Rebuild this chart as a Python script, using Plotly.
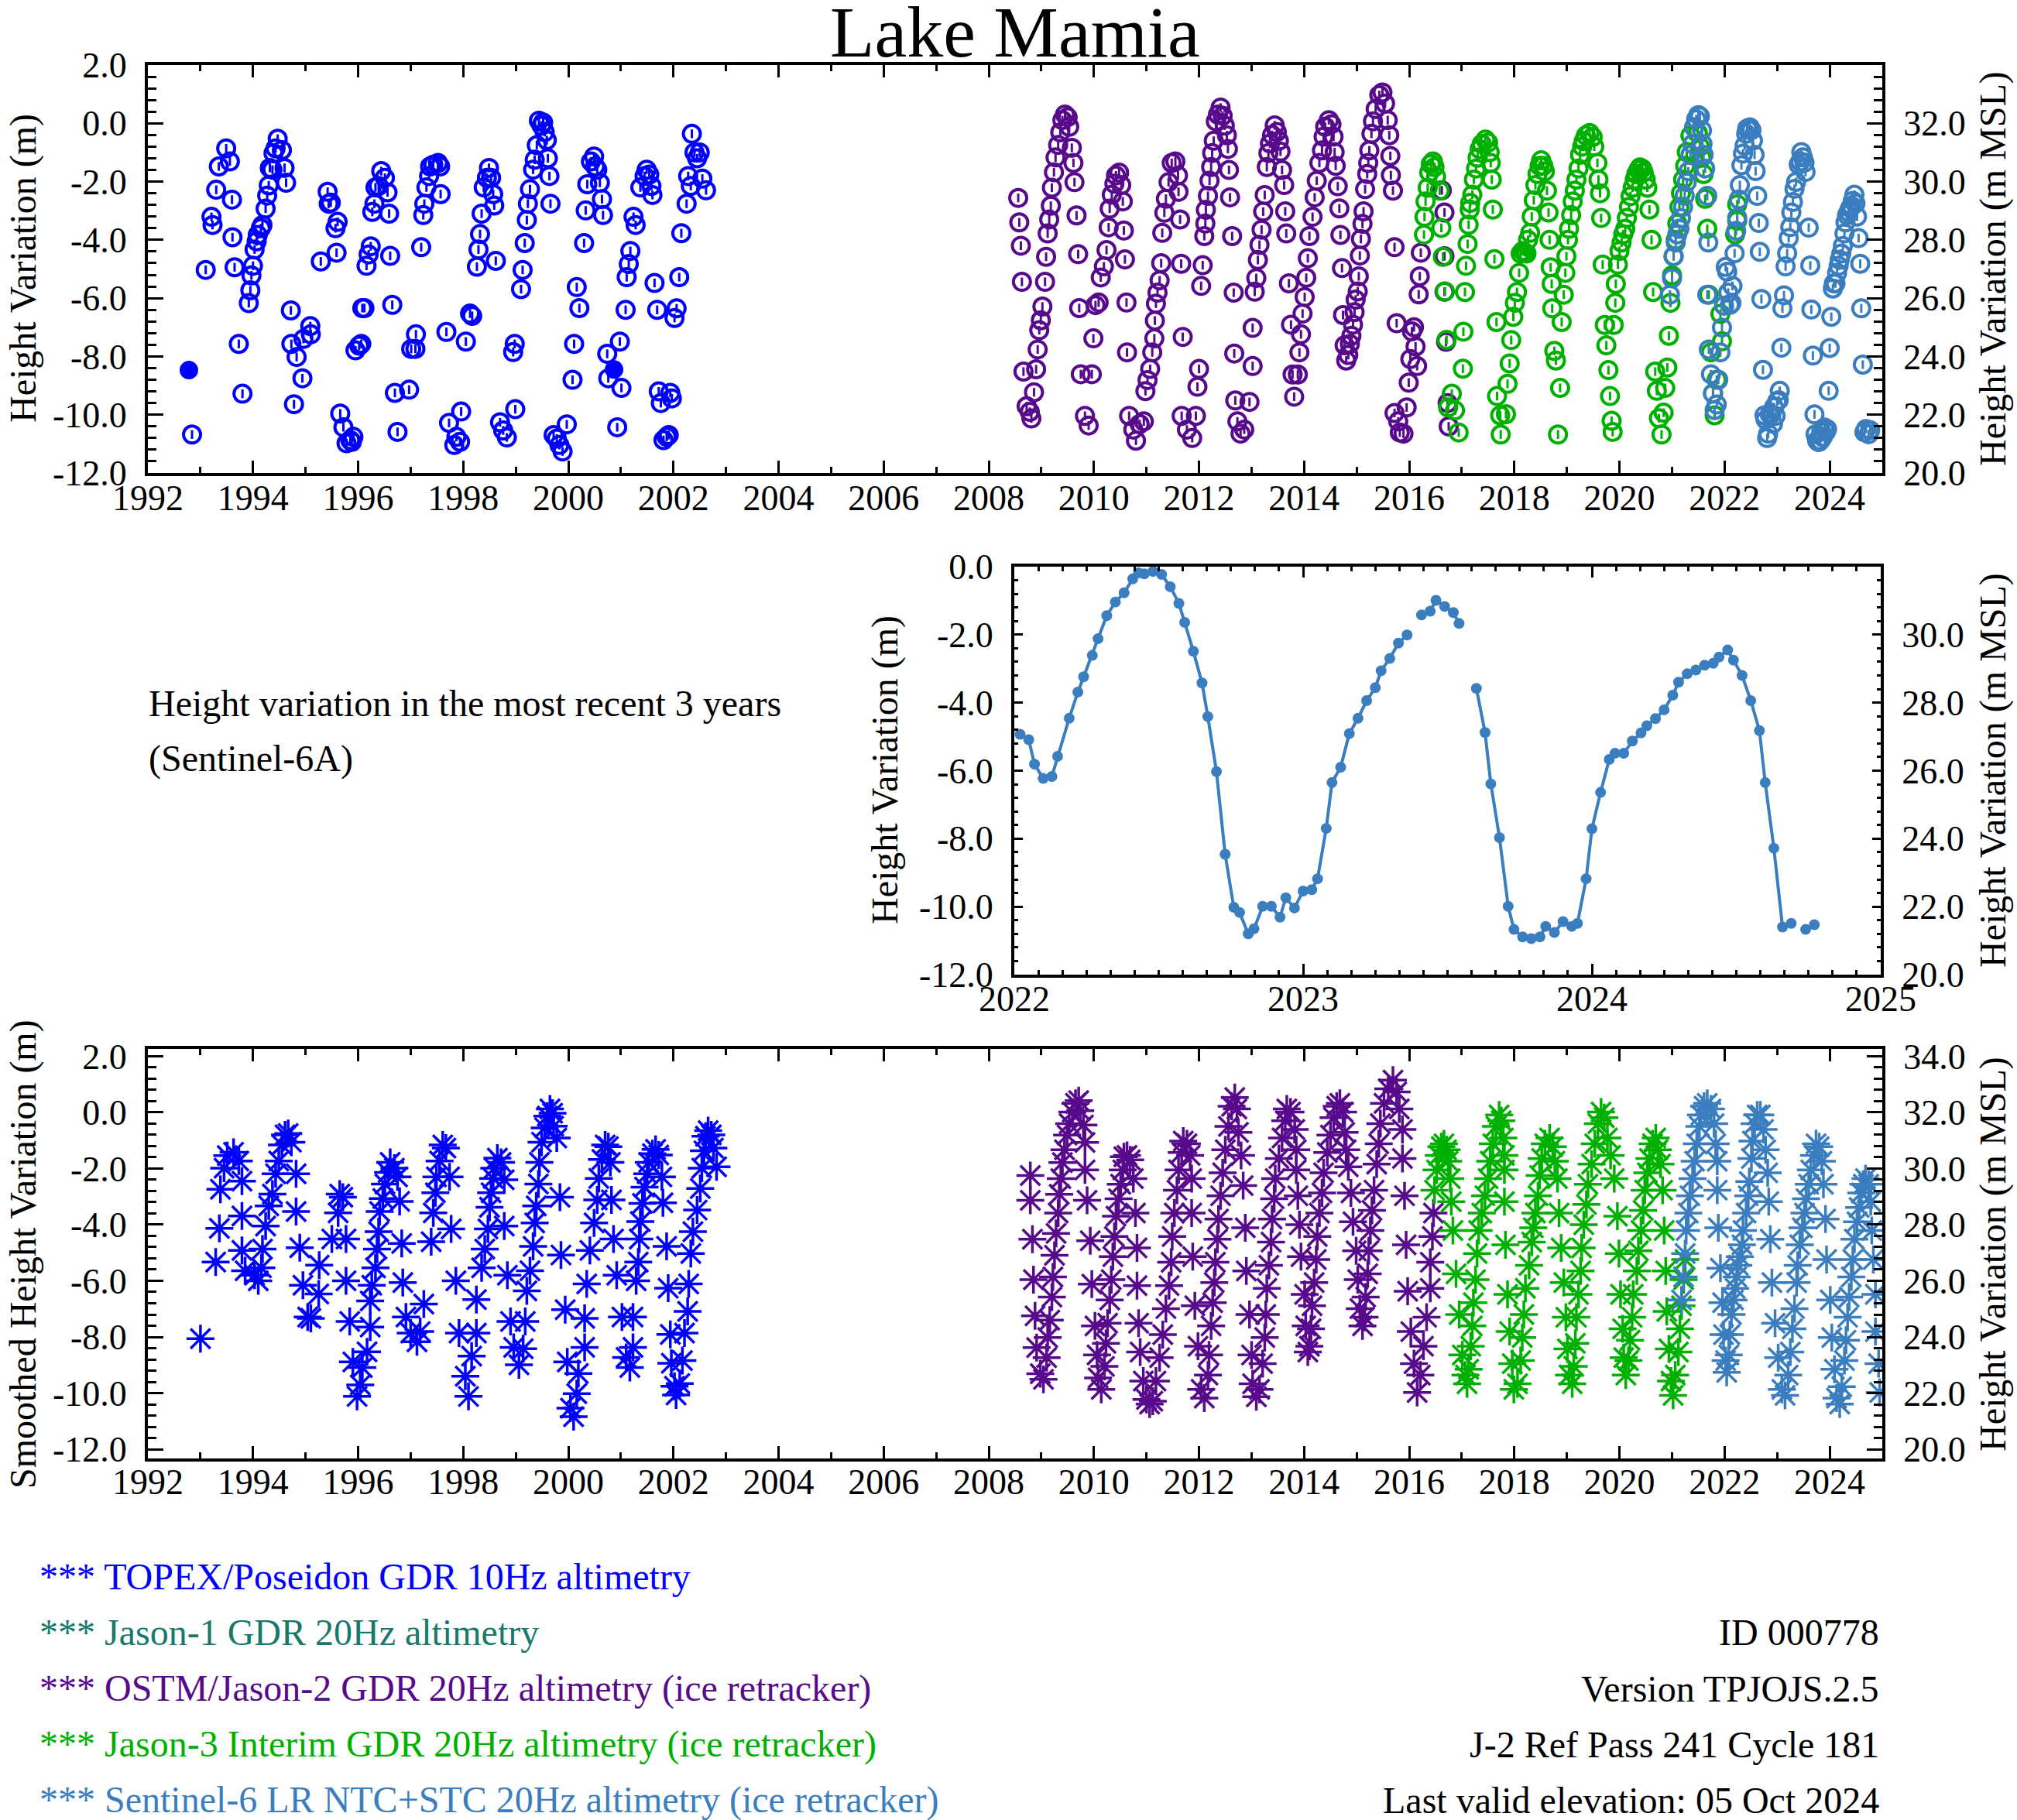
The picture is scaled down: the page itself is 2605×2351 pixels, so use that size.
import plotly.graph_objects as go

W, H = 2605, 2351
FONT = "Liberation Serif"
MSL_OFFSET = 32.0  # right-hand axes: height above MSL = height variation + 32 m

C_TOPEX = "#0000ff"
C_J1 = "#17786c"
C_J2 = "#580a8c"
C_J3 = "#00b000"
C_S6 = "#3a7ebf"

# ---------------- top panel: raw height variation (decimal year, m) ----------------
TOPEX_RAW = [
    (1992.84, -10.68), (1993.10, -5.03), (1993.21, -3.21), (1993.23, -3.49), (1993.30, -2.28),
    (1993.35, -1.48), (1993.49, -0.86), (1993.56, -1.31), (1993.60, -2.62), (1993.61, -3.91),
    (1993.65, -4.94), (1993.73, -7.57), (1993.80, -9.28), (1993.92, -6.17), (1993.95, -5.73),
    (1993.97, -5.22), (1994.00, -4.89), (1994.03, -4.33), (1994.07, -4.05), (1994.09, -3.83),
    (1994.15, -3.60), (1994.18, -3.49), (1994.24, -2.93), (1994.27, -2.48), (1994.30, -2.13),
    (1994.32, -1.53), (1994.37, -1.59), (1994.39, -1.03), (1994.43, -0.86), (1994.47, -0.53),
    (1994.55, -0.92), (1994.60, -1.53), (1994.63, -2.04), (1994.72, -6.42), (1994.73, -7.57),
    (1994.78, -9.64), (1994.83, -8.02), (1994.94, -8.75), (1994.96, -7.40), (1995.09, -6.96),
    (1995.10, -7.24), (1995.29, -4.74), (1995.42, -2.35), (1995.44, -2.76), (1995.48, -2.72),
    (1995.57, -3.60), (1995.61, -3.38), (1995.59, -4.44), (1995.66, -9.96), (1995.72, -10.43),
    (1995.78, -10.98), (1995.85, -10.87), (1995.88, -10.93), (1995.91, -10.76), (1995.95, -7.79),
    (1996.02, -7.63), (1996.06, -7.57), (1996.08, -6.34), (1996.12, -6.34), (1996.16, -4.89),
    (1996.20, -4.50), (1996.24, -4.22), (1996.27, -3.04), (1996.31, -2.76), (1996.33, -2.20),
    (1996.39, -2.15), (1996.44, -1.64), (1996.51, -1.87), (1996.56, -2.37), (1996.59, -3.10),
    (1996.61, -4.55), (1996.65, -6.23), (1996.70, -9.25), (1996.75, -10.59), (1996.97, -9.14),
    (1997.01, -7.74), (1997.09, -7.74), (1997.10, -7.24), (1997.20, -4.25), (1997.24, -3.15),
    (1997.26, -2.76), (1997.30, -2.20), (1997.35, -1.81), (1997.37, -1.48), (1997.43, -1.42),
    (1997.52, -1.36), (1997.56, -1.48), (1997.57, -2.43), (1997.68, -7.16), (1997.73, -10.28),
    (1997.83, -11.04), (1997.87, -10.76), (1997.94, -10.93), (1997.96, -9.89), (1998.05, -7.49),
    (1998.13, -6.53), (1998.17, -6.61), (1998.26, -4.92), (1998.29, -4.33), (1998.32, -3.80),
    (1998.35, -3.10), (1998.39, -2.20), (1998.45, -1.87), (1998.49, -1.53), (1998.53, -1.87),
    (1998.57, -2.43), (1998.59, -2.82), (1998.62, -4.72), (1998.70, -10.26), (1998.76, -10.54),
    (1998.83, -10.78), (1998.95, -7.85), (1998.98, -7.57), (1998.99, -9.81), (1999.10, -5.69),
    (1999.13, -5.03), (1999.17, -4.11), (1999.21, -3.32), (1999.23, -2.76), (1999.27, -2.26),
    (1999.33, -1.59), (1999.36, -1.25), (1999.40, -0.75), (1999.44, 0.09), (1999.49, -0.08),
    (1999.52, 0.03), (1999.55, -0.30), (1999.59, -0.58), (1999.61, -1.20), (1999.64, -1.81),
    (1999.66, -2.76), (1999.72, -10.70), (1999.78, -10.82), (1999.83, -11.04), (1999.89, -11.26),
    (1999.97, -10.33), (2000.08, -8.80), (2000.11, -7.57), (2000.16, -5.62), (2000.21, -6.34),
    (2000.30, -4.11), (2000.33, -2.99), (2000.36, -2.09), (2000.43, -1.31), (2000.49, -1.14),
    (2000.51, -1.48), (2000.55, -1.59), (2000.60, -2.04), (2000.64, -2.60), (2000.66, -3.15),
    (2000.74, -7.91), (2000.76, -8.75), (2000.93, -10.43), (2000.98, -7.49), (2001.01, -9.08),
    (2001.09, -6.40), (2001.11, -5.28), (2001.15, -4.83), (2001.18, -4.38), (2001.24, -3.21),
    (2001.28, -3.49), (2001.37, -2.20), (2001.45, -1.81), (2001.49, -1.59), (2001.54, -1.76),
    (2001.58, -2.15), (2001.60, -2.46), (2001.64, -5.48), (2001.69, -6.40), (2001.72, -9.20),
    (2001.76, -9.60), (2001.81, -10.87), (2001.87, -10.76), (2001.91, -10.70), (2001.94, -9.25),
    (2001.97, -9.44), (2002.02, -6.68), (2002.06, -6.35), (2002.11, -5.28), (2002.15, -3.77),
    (2002.25, -2.76), (2002.28, -1.81), (2002.33, -2.15), (2002.35, -0.36), (2002.40, -1.00),
    (2002.45, -1.20), (2002.50, -1.00), (2002.55, -1.90), (2002.62, -2.30),
]
TOPEX_FILLED = [(1992.78, -8.47), (2000.87, -8.45)]

J2_RAW = [
    (2008.56, -2.56), (2008.58, -3.40), (2008.61, -4.20), (2008.63, -5.44), (2008.66, -8.52),
    (2008.72, -9.71), (2008.78, -9.90), (2008.81, -10.13), (2008.86, -9.23), (2008.90, -8.44),
    (2008.93, -7.76), (2008.96, -7.10), (2008.99, -6.76), (2009.02, -6.29), (2009.07, -5.44),
    (2009.09, -4.58), (2009.12, -3.78), (2009.15, -3.30), (2009.18, -2.83), (2009.20, -2.21),
    (2009.24, -1.68), (2009.27, -1.17), (2009.32, -0.74), (2009.36, -0.31), (2009.40, 0.11),
    (2009.45, 0.30), (2009.50, 0.21), (2009.53, -0.12), (2009.58, -0.84), (2009.61, -1.36),
    (2009.63, -2.02), (2009.67, -3.16), (2009.70, -4.49), (2009.72, -6.34), (2009.75, -8.61),
    (2009.83, -10.04), (2009.90, -10.37), (2009.96, -8.61), (2009.99, -7.38), (2010.03, -6.24),
    (2010.09, -6.15), (2010.13, -5.29), (2010.19, -4.91), (2010.24, -4.35), (2010.28, -3.57),
    (2010.30, -2.93), (2010.34, -2.45), (2010.39, -2.07), (2010.42, -1.79), (2010.48, -1.69),
    (2010.52, -2.12), (2010.55, -2.68), (2010.57, -3.68), (2010.59, -4.67), (2010.62, -6.15),
    (2010.63, -7.86), (2010.67, -10.04), (2010.75, -10.51), (2010.80, -10.89), (2010.87, -10.32),
    (2010.95, -10.23), (2010.98, -9.19), (2011.02, -8.81), (2011.07, -8.43), (2011.11, -7.86),
    (2011.15, -7.38), (2011.16, -6.77), (2011.18, -6.19), (2011.21, -5.81), (2011.25, -5.39),
    (2011.28, -4.80), (2011.30, -3.76), (2011.34, -3.07), (2011.37, -2.59), (2011.42, -2.02),
    (2011.48, -1.36), (2011.55, -1.31), (2011.60, -1.79), (2011.61, -2.35), (2011.64, -3.30),
    (2011.66, -4.82), (2011.69, -7.33), (2011.67, -10.04), (2011.77, -10.51), (2011.87, -10.80),
    (2011.94, -10.04), (2011.97, -9.04), (2012.00, -8.43), (2012.04, -5.58), (2012.07, -4.87),
    (2012.10, -3.87), (2012.12, -3.44), (2012.13, -2.97), (2012.17, -2.49), (2012.20, -1.97),
    (2012.23, -1.50), (2012.25, -1.02), (2012.28, -0.60), (2012.32, 0.07), (2012.36, 0.30),
    (2012.41, 0.54), (2012.45, 0.26), (2012.49, -0.08), (2012.53, -0.41), (2012.55, -0.88),
    (2012.57, -1.60), (2012.59, -2.54), (2012.63, -3.87), (2012.66, -5.81), (2012.67, -7.90),
    (2012.69, -9.51), (2012.73, -10.23), (2012.79, -10.65), (2012.86, -10.51), (2012.96, -9.56),
    (2013.02, -8.33), (2013.02, -7.02), (2013.06, -5.78), (2013.09, -5.31), (2013.12, -4.69),
    (2013.15, -4.17), (2013.19, -3.65), (2013.22, -3.03), (2013.25, -2.46), (2013.29, -1.50),
    (2013.32, -1.02), (2013.35, -0.69), (2013.39, -0.40), (2013.44, -0.07), (2013.48, -0.30),
    (2013.52, -0.60), (2013.55, -0.97), (2013.58, -1.60), (2013.62, -2.12), (2013.64, -3.02),
    (2013.66, -3.78), (2013.71, -5.49), (2013.75, -6.91), (2013.78, -8.62), (2013.81, -9.38),
    (2013.88, -8.62), (2013.91, -7.86), (2013.94, -7.24), (2013.97, -6.53), (2014.01, -5.96),
    (2014.04, -5.30), (2014.07, -4.63), (2014.10, -3.87), (2014.16, -3.21), (2014.20, -2.54),
    (2014.24, -1.97), (2014.29, -1.36), (2014.34, -0.93), (2014.37, -0.46), (2014.40, -0.12),
    (2014.47, 0.11), (2014.52, -0.03), (2014.56, -0.46), (2014.58, -0.99), (2014.60, -1.46),
    (2014.64, -2.16), (2014.67, -2.92), (2014.69, -3.83), (2014.72, -4.97), (2014.74, -6.58),
    (2014.77, -7.62), (2014.80, -8.14), (2014.84, -7.95), (2014.87, -7.57), (2014.90, -7.29),
    (2014.93, -6.91), (2014.96, -6.48), (2014.98, -6.05), (2015.02, -5.77), (2015.04, -5.25),
    (2015.06, -4.54), (2015.08, -3.97), (2015.11, -3.45), (2015.13, -3.02), (2015.16, -2.26),
    (2015.20, -1.74), (2015.22, -1.36), (2015.24, -0.93), (2015.28, -0.36), (2015.31, 0.07),
    (2015.36, 0.49), (2015.43, 0.97), (2015.49, 1.06), (2015.54, 0.68), (2015.59, 0.11),
    (2015.62, -0.41), (2015.64, -1.12), (2015.65, -1.78), (2015.69, -2.31), (2015.72, -4.25),
    (2015.76, -6.86), (2015.72, -9.94), (2015.79, -10.23), (2015.82, -10.61), (2015.89, -10.65),
    (2015.95, -9.75), (2015.99, -8.90), (2016.02, -8.09), (2016.05, -7.14), (2016.09, -7.00),
    (2016.12, -7.66), (2016.15, -8.33), (2016.18, -5.87), (2016.20, -5.25), (2016.22, -4.44),
    (2016.62, -2.30), (2016.67, -3.06), (2016.67, -4.56), (2016.67, -5.78), (2016.70, -7.50),
    (2016.73, -9.60), (2016.75, -10.40),
]

J3_RAW = [
    (2016.28, -3.82), (2016.29, -3.21), (2016.31, -2.68), (2016.35, -2.21), (2016.38, -1.69),
    (2016.41, -1.40), (2016.45, -1.31), (2016.48, -1.50), (2016.51, -1.83), (2016.58, -2.31),
    (2016.61, -3.59), (2016.64, -4.58), (2016.68, -5.77), (2016.71, -7.43), (2016.74, -9.75),
    (2016.81, -9.28), (2016.87, -9.85), (2016.94, -10.61), (2017.02, -8.42), (2017.03, -7.15),
    (2017.06, -5.79), (2017.08, -4.89), (2017.11, -4.14), (2017.13, -3.48), (2017.15, -2.96),
    (2017.16, -2.73), (2017.20, -2.45), (2017.23, -1.93), (2017.27, -1.55), (2017.30, -1.18),
    (2017.34, -0.89), (2017.38, -0.71), (2017.45, -0.56), (2017.50, -0.66), (2017.53, -0.99),
    (2017.55, -1.36), (2017.57, -1.93), (2017.59, -2.96), (2017.62, -4.66), (2017.66, -6.82),
    (2017.67, -9.36), (2017.73, -10.02), (2017.74, -10.68), (2017.84, -9.98), (2017.87, -8.94),
    (2017.91, -8.24), (2017.94, -7.44), (2017.98, -6.64), (2018.01, -6.16), (2018.05, -5.79),
    (2018.09, -5.13), (2018.12, -4.47), (2018.16, -4.38), (2018.19, -4.42), (2018.23, -4.47),
    (2018.26, -4.00), (2018.30, -3.76), (2018.33, -3.20), (2018.37, -2.64), (2018.40, -2.12),
    (2018.44, -1.74), (2018.48, -1.46), (2018.51, -1.27), (2018.55, -1.46), (2018.58, -1.65),
    (2018.62, -2.31), (2018.65, -3.06), (2018.67, -4.00), (2018.69, -4.94), (2018.71, -5.51),
    (2018.72, -6.35), (2018.76, -7.81), (2018.79, -8.14), (2018.83, -10.68), (2018.87, -9.08),
    (2018.90, -6.82), (2018.94, -5.88), (2018.97, -5.13), (2018.99, -4.56), (2019.02, -4.00),
    (2019.04, -3.62), (2019.08, -3.15), (2019.11, -2.68), (2019.15, -2.31), (2019.18, -1.93),
    (2019.22, -1.55), (2019.25, -1.08), (2019.29, -0.80), (2019.32, -0.61), (2019.36, -0.42),
    (2019.43, -0.33), (2019.49, -0.47), (2019.52, -0.80), (2019.58, -1.36), (2019.60, -1.93),
    (2019.63, -2.40), (2019.65, -3.25), (2019.68, -4.85), (2019.72, -6.92), (2019.75, -7.62),
    (2019.79, -8.47), (2019.82, -9.36), (2019.85, -10.21), (2019.87, -10.59), (2019.89, -6.92),
    (2019.92, -6.16), (2019.93, -5.51), (2019.97, -4.85), (2020.00, -4.38), (2020.04, -4.09),
    (2020.07, -3.81), (2020.11, -3.62), (2020.14, -3.25), (2020.18, -2.87), (2020.21, -2.50),
    (2020.25, -2.21), (2020.29, -1.93), (2020.32, -1.74), (2020.36, -1.60), (2020.39, -1.51),
    (2020.43, -1.55), (2020.46, -1.69), (2020.50, -1.93), (2020.53, -2.21), (2020.57, -2.96),
    (2020.61, -4.00), (2020.64, -5.79), (2020.68, -8.52), (2020.71, -9.18), (2020.75, -10.12),
    (2020.80, -10.68), (2020.84, -9.93), (2020.87, -9.08), (2020.91, -8.38), (2020.94, -7.29),
    (2020.97, -6.16), (2021.00, -5.22), (2021.03, -4.56), (2021.07, -4.00), (2021.10, -3.44),
    (2021.14, -2.87), (2021.17, -2.40), (2021.21, -1.93), (2021.25, -1.46), (2021.28, -0.99),
    (2021.35, -0.42), (2021.42, -0.14), (2021.49, -0.33), (2021.53, -0.80), (2021.56, -1.18),
    (2021.60, -1.74), (2021.63, -2.59), (2021.67, -3.62), (2021.70, -5.88), (2021.74, -7.86),
    (2021.78, -9.27), (2021.81, -10.02), (2021.85, -8.80), (2021.92, -6.54), (2021.95, -7.48),
    (2022.20, -3.81), (2022.24, -3.34), (2022.24, -2.78),
]

S6_EARLY_RAW = [
    (2020.96, -5.88), (2021.00, -5.32), (2021.03, -4.56), (2021.07, -4.09), (2021.10, -3.81),
    (2021.14, -3.62), (2021.17, -3.25), (2021.21, -2.87), (2021.24, -2.49), (2021.28, -2.02),
    (2021.31, -1.65), (2021.35, -1.08), (2021.39, -0.71), (2021.42, -0.14), (2021.46, 0.14),
    (2021.50, 0.28), (2021.53, 0.24), (2021.57, -0.24), (2021.58, -0.71), (2021.60, -1.08),
    (2021.63, -1.55), (2021.67, -2.49), (2021.69, -4.09), (2021.67, -5.88), (2021.70, -7.76),
    (2021.74, -8.61), (2021.78, -9.27), (2021.81, -9.84), (2021.85, -9.65), (2021.88, -8.80),
    (2021.92, -7.86), (2021.95, -7.01), (2021.99, -6.26),
]

# ---------------- middle panel: Sentinel-6A, most recent 3 years (None = gap) ----------------
RECENT_T = [
    2022.02, 2022.05, 2022.07, 2022.10, 2022.13, 2022.15, 2022.19, 2022.22, 2022.24, 2022.27,
    2022.29, 2022.32, 2022.35, 2022.38, 2022.41, 2022.43, 2022.45, 2022.48, 2022.51, 2022.54,
    2022.57, 2022.59, 2022.62, 2022.65, 2022.67, 2022.70, 2022.73, 2022.76, 2022.78, 2022.81,
    2022.83, 2022.86, 2022.89, 2022.92, 2022.94, 2022.97, 2023.00, 2023.03, 2023.05, 2023.08,
    2023.10, 2023.13, 2023.16, 2023.19, 2023.22, 2023.25, 2023.27, 2023.30, 2023.33, 2023.36,
    None,
    2023.41, 2023.44, 2023.46, 2023.49, 2023.52, 2023.54,
    None,
    2023.60, 2023.63, 2023.65, 2023.68, 2023.71, 2023.73, 2023.76, 2023.79, 2023.82, 2023.84,
    2023.87, 2023.90, 2023.93, 2023.95, 2023.98, 2024.00, 2024.03, 2024.06, 2024.08, 2024.11,
    2024.14, 2024.17, 2024.19, 2024.22, 2024.25, 2024.28, 2024.30, 2024.33, 2024.36, 2024.39,
    2024.42, 2024.44, 2024.47, 2024.49, 2024.52, 2024.55, 2024.58, 2024.60, 2024.63, 2024.66,
    2024.69,
    None,
    2024.74, 2024.77,
]
RECENT_H = [
    -4.93, -5.09, -5.81, -6.23, -6.17, -5.58, -4.46, -3.69, -3.24, -2.61,
    -2.12, -1.44, -1.04, -0.77, -0.36, -0.18, -0.21, -0.14, -0.23, -0.59,
    -1.08, -1.64, -2.49, -3.42, -4.41, -6.03, -8.46, -10.02, -10.17, -10.80,
    -10.65, -9.99, -9.99, -10.31, -9.74, -10.04, -9.54, -9.50, -9.18, -7.70,
    -6.35, -5.90, -4.91, -4.46, -3.94, -3.56, -3.06, -2.70, -2.25, -2.01,
    None,
    -1.42, -1.31, -0.99, -1.17, -1.35, -1.67,
    None,
    -3.58, -4.88, -6.39, -7.97, -9.99, -10.67, -10.89, -10.94, -10.89, -10.58,
    -10.76, -10.44, -10.58, -10.49, -9.18, -7.71, -6.64, -5.67, -5.49, -5.49,
    -5.13, -4.89, -4.68, -4.47, -4.21, -3.78, -3.40, -3.15, -3.04, -2.90,
    -2.84, -2.66, -2.45, -2.75, -3.20, -3.94, -4.82, -6.35, -8.28, -10.60,
    -10.49,
    None,
    -10.67, -10.53,
]

# ---------------- bottom panel: smoothed height variation ----------------
TOPEX_SMOOTH = [
    (1993.00, -8.06), (1993.29, -5.33), (1993.36, -4.13), (1993.38, -2.74), (1993.45, -1.99),
    (1993.51, -1.54), (1993.63, -1.42), (1993.73, -1.73), (1993.79, -2.45), (1993.79, -3.69),
    (1993.79, -4.92), (1993.85, -5.64), (1994.03, -5.80), (1994.10, -6.00), (1994.16, -5.54),
    (1994.18, -4.87), (1994.24, -4.05), (1994.30, -3.33), (1994.37, -2.91), (1994.43, -2.19),
    (1994.49, -1.73), (1994.55, -1.16), (1994.61, -0.80), (1994.67, -0.75), (1994.73, -1.06),
    (1994.82, -2.19), (1994.82, -3.53), (1994.89, -4.82), (1994.95, -6.16), (1995.04, -7.29),
    (1995.10, -7.34), (1995.25, -6.47), (1995.26, -5.44), (1995.50, -4.51), (1995.62, -3.58),
    (1995.65, -2.91), (1995.71, -3.02), (1995.77, -4.51), (1995.77, -6.00), (1995.84, -7.45),
    (1995.90, -8.89), (1995.98, -10.12), (1996.04, -9.71), (1996.08, -9.09), (1996.17, -8.53),
    (1996.23, -7.65), (1996.23, -6.72), (1996.26, -6.16), (1996.33, -5.54), (1996.36, -4.87),
    (1996.39, -4.25), (1996.41, -3.53), (1996.47, -3.07), (1996.51, -2.55), (1996.57, -2.14),
    (1996.61, -1.78), (1996.69, -1.99), (1996.75, -2.30), (1996.79, -3.17), (1996.83, -4.67),
    (1996.85, -6.06), (1996.91, -7.29), (1997.00, -7.86), (1997.12, -8.17), (1997.18, -7.81),
    (1997.25, -6.83), (1997.39, -4.61), (1997.43, -3.58), (1997.47, -2.86), (1997.49, -2.30),
    (1997.55, -1.73), (1997.61, -1.16), (1997.67, -1.27), (1997.74, -2.30), (1997.77, -4.15),
    (1997.86, -6.00), (1997.92, -7.86), (1998.04, -9.40), (1998.10, -10.12), (1998.16, -8.68),
    (1998.25, -7.86), (1998.25, -6.67), (1998.35, -5.54), (1998.41, -4.87), (1998.47, -4.15),
    (1998.50, -3.38), (1998.53, -2.86), (1998.57, -2.35), (1998.59, -1.99), (1998.65, -1.63),
    (1998.72, -1.78), (1998.78, -2.40), (1998.78, -4.05), (1998.84, -5.80), (1998.90, -7.45),
    (1998.96, -8.37), (1999.06, -8.99), (1999.14, -8.42), (1999.18, -7.45), (1999.21, -6.36),
    (1999.27, -5.64), (1999.33, -4.77), (1999.36, -3.94), (1999.39, -3.33), (1999.43, -2.55),
    (1999.45, -1.78), (1999.49, -1.06), (1999.55, -0.55), (1999.60, -0.13), (1999.65, 0.12),
    (1999.70, -0.03), (1999.72, -0.49), (1999.78, -0.91), (1999.84, -3.02), (1999.86, -5.08),
    (1999.94, -7.03), (1999.98, -8.89), (2000.04, -10.54), (2000.10, -10.84), (2000.16, -10.02),
    (2000.19, -9.30), (2000.31, -8.37), (2000.31, -7.34), (2000.35, -6.11), (2000.41, -4.92),
    (2000.49, -3.94), (2000.55, -3.12), (2000.58, -2.35), (2000.64, -1.68), (2000.70, -1.16),
    (2000.76, -1.22), (2000.80, -1.78), (2000.82, -3.12), (2000.86, -4.51), (2000.92, -5.80),
    (2001.02, -7.29), (2001.10, -8.73), (2001.17, -9.09), (2001.23, -8.37), (2001.23, -7.29),
    (2001.29, -6.00), (2001.33, -5.33), (2001.35, -4.51), (2001.37, -3.89), (2001.41, -3.24),
    (2001.45, -2.66), (2001.50, -2.19), (2001.53, -1.78), (2001.60, -1.47), (2001.66, -1.32),
    (2001.72, -1.52), (2001.78, -2.30), (2001.80, -3.22), (2001.87, -4.77), (2001.90, -6.26),
    (2001.94, -7.91), (2001.96, -8.94), (2002.02, -9.76), (2002.05, -10.07), (2002.12, -9.66),
    (2002.17, -8.84), (2002.21, -7.86), (2002.27, -7.09), (2002.29, -6.11), (2002.33, -5.03),
    (2002.37, -4.25), (2002.45, -3.48), (2002.51, -2.71), (2002.54, -1.99), (2002.58, -1.37),
    (2002.61, -0.85), (2002.66, -0.65), (2002.72, -0.80), (2002.76, -1.27), (2002.82, -1.94),
]

J2_SMOOTH = [
    (2008.79, -2.25), (2008.79, -3.13), (2008.83, -4.52), (2008.85, -5.96), (2008.88, -7.25),
    (2008.91, -8.38), (2008.98, -9.31), (2009.04, -9.51), (2009.10, -8.74), (2009.12, -8.02),
    (2009.16, -7.40), (2009.20, -6.58), (2009.22, -5.86), (2009.25, -5.09), (2009.28, -4.31),
    (2009.32, -3.59), (2009.34, -2.92), (2009.37, -2.36), (2009.40, -1.79), (2009.44, -1.33),
    (2009.49, -0.81), (2009.53, -0.40), (2009.59, 0.01), (2009.65, 0.32), (2009.71, 0.42),
    (2009.74, 0.06), (2009.80, -0.45), (2009.83, -1.07), (2009.83, -2.05), (2009.87, -3.13),
    (2009.93, -4.57), (2009.96, -6.12), (2010.02, -7.61), (2010.06, -8.64), (2010.08, -9.46),
    (2010.14, -9.87), (2010.20, -9.05), (2010.23, -8.23), (2010.26, -7.51), (2010.30, -6.68),
    (2010.33, -5.96), (2010.36, -5.14), (2010.39, -4.42), (2010.42, -3.70), (2010.47, -3.08),
    (2010.51, -2.56), (2010.55, -2.05), (2010.57, -1.58), (2010.63, -1.53), (2010.69, -1.69),
    (2010.75, -2.36), (2010.79, -3.59), (2010.82, -4.83), (2010.82, -6.17), (2010.85, -7.51),
    (2010.88, -8.54), (2010.94, -9.57), (2011.00, -10.23), (2011.06, -10.39), (2011.12, -10.29),
    (2011.18, -9.57), (2011.25, -8.74), (2011.31, -7.92), (2011.37, -6.99), (2011.43, -6.17),
    (2011.47, -5.34), (2011.49, -4.42), (2011.53, -3.59), (2011.58, -2.77), (2011.61, -2.05),
    (2011.67, -1.43), (2011.70, -1.02), (2011.77, -1.12), (2011.83, -1.53), (2011.86, -2.36),
    (2011.86, -3.59), (2011.88, -5.14), (2011.92, -6.89), (2011.98, -8.33), (2012.04, -9.87),
    (2012.10, -10.18), (2012.17, -9.36), (2012.19, -8.64), (2012.23, -7.61), (2012.26, -6.78),
    (2012.29, -6.06), (2012.31, -5.34), (2012.35, -4.52), (2012.37, -3.80), (2012.41, -2.97),
    (2012.45, -2.15), (2012.50, -1.33), (2012.56, -0.50), (2012.62, 0.22), (2012.68, 0.53),
    (2012.72, 0.12), (2012.75, -0.71), (2012.80, -1.53), (2012.84, -2.61), (2012.88, -4.11),
    (2012.90, -5.65), (2012.96, -7.20), (2013.00, -8.64), (2013.02, -9.67), (2013.09, -10.13),
    (2013.15, -9.87), (2013.21, -8.95), (2013.25, -8.02), (2013.27, -7.20), (2013.29, -6.27),
    (2013.33, -5.45), (2013.37, -4.62), (2013.39, -3.80), (2013.43, -3.08), (2013.45, -2.36),
    (2013.52, -1.64), (2013.58, -0.91), (2013.64, -0.30), (2013.67, 0.12), (2013.74, 0.01),
    (2013.82, -0.61), (2013.85, -1.33), (2013.85, -2.05), (2013.88, -2.97), (2013.91, -4.00),
    (2013.94, -5.14), (2014.01, -6.48), (2014.03, -7.61), (2014.07, -8.54), (2014.10, -8.33),
    (2014.13, -7.71), (2014.15, -6.89), (2014.19, -6.06), (2014.23, -5.24), (2014.25, -4.42),
    (2014.29, -3.59), (2014.34, -2.87), (2014.37, -2.15), (2014.44, -1.43), (2014.50, -0.81),
    (2014.56, -0.19), (2014.62, 0.22), (2014.68, 0.32), (2014.74, 0.01), (2014.77, -0.71),
    (2014.80, -1.33), (2014.84, -1.94), (2014.89, -2.87), (2014.93, -3.90), (2014.99, -4.93),
    (2015.02, -5.96), (2015.06, -6.99), (2015.11, -7.61), (2015.15, -7.30), (2015.17, -6.58),
    (2015.21, -5.75), (2015.23, -4.93), (2015.26, -4.21), (2015.29, -3.49), (2015.33, -2.77),
    (2015.38, -1.84), (2015.42, -1.12), (2015.45, -0.40), (2015.52, 0.32), (2015.60, 0.84),
    (2015.69, 1.15), (2015.76, 0.73), (2015.81, 0.12), (2015.87, -0.61), (2015.87, -1.64),
    (2015.91, -2.97), (2015.94, -4.72), (2015.97, -6.37), (2016.03, -7.81), (2016.09, -8.95),
    (2016.15, -9.98), (2016.21, -9.36), (2016.27, -8.33), (2016.33, -7.30), (2016.40, -6.27),
    (2016.40, -5.34), (2016.44, -4.42), (2016.46, -3.59),
]

J3_SMOOTH = [
    (2016.48, -2.77), (2016.52, -2.05), (2016.56, -1.53), (2016.61, -1.22), (2016.66, -1.12),
    (2016.71, -1.33), (2016.74, -1.74), (2016.78, -2.36), (2016.80, -3.18), (2016.83, -4.21),
    (2016.89, -5.75), (2016.95, -7.20), (2017.01, -8.64), (2017.07, -9.36), (2017.10, -9.67),
    (2017.13, -9.15), (2017.17, -8.33), (2017.20, -7.61), (2017.22, -6.78), (2017.26, -5.96),
    (2017.29, -5.03), (2017.32, -4.21), (2017.38, -3.59), (2017.44, -2.97), (2017.50, -2.36),
    (2017.54, -1.74), (2017.59, -1.12), (2017.65, -0.50), (2017.71, -0.09), (2017.75, -0.30),
    (2017.79, -0.91), (2017.81, -1.53), (2017.81, -2.05), (2017.81, -3.18), (2017.83, -4.72),
    (2017.87, -6.48), (2017.91, -7.81), (2017.96, -8.95), (2017.99, -9.87), (2018.06, -9.67),
    (2018.12, -8.84), (2018.15, -8.02), (2018.18, -7.20), (2018.21, -6.27), (2018.28, -5.45),
    (2018.33, -4.62), (2018.36, -4.11), (2018.40, -3.59), (2018.45, -2.97), (2018.48, -2.25),
    (2018.52, -1.64), (2018.58, -1.12), (2018.67, -0.91), (2018.73, -1.22), (2018.77, -1.74),
    (2018.82, -2.36), (2018.85, -3.59), (2018.89, -4.83), (2018.94, -6.06), (2018.98, -7.30),
    (2019.01, -8.43), (2019.04, -9.36), (2019.10, -9.67), (2019.13, -9.05), (2019.16, -8.23),
    (2019.18, -7.30), (2019.22, -6.48), (2019.26, -5.65), (2019.28, -4.83), (2019.32, -4.00),
    (2019.37, -3.28), (2019.40, -2.56), (2019.47, -1.84), (2019.53, -1.12), (2019.59, -0.40),
    (2019.65, 0.01), (2019.71, -0.19), (2019.77, -0.91), (2019.83, -1.53), (2019.90, -2.36),
    (2019.96, -3.70), (2019.99, -5.03), (2020.02, -6.48), (2020.06, -7.71), (2020.08, -8.74),
    (2020.12, -9.36), (2020.17, -8.84), (2020.20, -8.12), (2020.24, -7.30), (2020.26, -6.48),
    (2020.33, -5.65), (2020.36, -4.93), (2020.41, -4.21), (2020.45, -3.49), (2020.48, -2.77),
    (2020.53, -2.15), (2020.57, -1.64), (2020.63, -1.12), (2020.69, -0.91), (2020.73, -1.33),
    (2020.78, -1.84), (2020.82, -2.77), (2020.85, -4.21), (2020.88, -5.65), (2020.90, -7.09),
    (2020.94, -8.43), (2020.98, -9.57), (2021.02, -10.08), (2021.06, -9.36), (2021.12, -8.54),
    (2021.15, -7.71), (2021.18, -6.89), (2021.22, -5.96), (2021.25, -5.24),
]

S6_SMOOTH = [
    (2021.18, -6.68), (2021.22, -5.86), (2021.25, -5.03), (2021.27, -4.21), (2021.31, -3.59),
    (2021.34, -2.97), (2021.39, -2.36), (2021.43, -1.74), (2021.47, -1.12), (2021.52, -0.50),
    (2021.55, -0.09), (2021.61, 0.22), (2021.67, 0.32), (2021.74, 0.12), (2021.80, -0.40),
    (2021.83, -1.12), (2021.86, -1.74), (2021.86, -2.77), (2021.88, -4.11), (2021.92, -5.55),
    (2021.96, -6.78), (2021.98, -7.92), (2022.02, -8.84), (2022.04, -9.26), (2022.08, -8.64),
    (2022.10, -7.92), (2022.13, -7.20), (2022.17, -6.68), (2022.20, -6.27), (2022.23, -5.86),
    (2022.26, -5.45), (2022.29, -5.14), (2022.33, -4.72), (2022.35, -4.21), (2022.41, -3.59),
    (2022.45, -2.97), (2022.47, -2.46), (2022.51, -1.64), (2022.53, -1.02), (2022.57, -0.40),
    (2022.62, -0.09), (2022.68, -0.09), (2022.74, -0.61), (2022.78, -1.33), (2022.82, -2.15),
    (2022.84, -3.18), (2022.87, -4.52), (2022.90, -6.06), (2022.96, -7.51), (2023.02, -8.74),
    (2023.09, -9.87), (2023.15, -10.08), (2023.21, -9.36), (2023.25, -8.54), (2023.29, -7.71),
    (2023.33, -6.99), (2023.37, -6.06), (2023.39, -5.45), (2023.43, -4.72), (2023.48, -4.11),
    (2023.52, -3.59), (2023.55, -3.08), (2023.60, -2.56), (2023.64, -2.05), (2023.70, -1.53),
    (2023.74, -1.12), (2023.80, -1.22), (2023.85, -1.74), (2023.88, -2.56), (2023.92, -3.80),
    (2023.94, -5.24), (2024.01, -6.68), (2024.04, -8.02), (2024.09, -9.15), (2024.13, -10.18),
    (2024.19, -10.39), (2024.23, -9.77), (2024.28, -8.84), (2024.31, -8.12), (2024.34, -7.30),
    (2024.37, -6.58), (2024.41, -5.86), (2024.44, -5.24), (2024.47, -4.52), (2024.52, -3.90),
    (2024.56, -3.39), (2024.60, -2.87), (2024.64, -2.56), (2024.68, -2.36), (2024.74, -2.56),
    (2024.78, -3.18), (2024.80, -4.21), (2024.83, -5.24), (2024.87, -6.48), (2024.87, -7.81),
    (2024.93, -8.95), (2024.95, -9.98),
]

# tick labels
YEAR_TICKS = list(range(1992, 2025, 2))
RECENT_YEAR_TICKS = [2022, 2023, 2024, 2025]
LEFT_TICKS_TOP = [2, 0, -2, -4, -6, -8, -10, -12]
RIGHT_TICKS_TOP = [20, 22, 24, 26, 28, 30, 32]
LEFT_TICKS_MID = [0, -2, -4, -6, -8, -10, -12]
RIGHT_TICKS_MID = [20, 22, 24, 26, 28, 30]
RIGHT_TICKS_BOT = [20, 22, 24, 26, 28, 30, 32, 34]

LEGEND_LINES = [
    ("*** TOPEX/Poseidon GDR 10Hz altimetry", C_TOPEX),
    ("*** Jason-1 GDR 20Hz altimetry", C_J1),
    ("*** OSTM/Jason-2 GDR 20Hz altimetry (ice retracker)", C_J2),
    ("*** Jason-3 Interim GDR 20Hz altimetry (ice retracker)", C_J3),
    ("*** Sentinel-6 LR NTC+STC 20Hz altimetry (ice retracker)", C_S6),
]
INFO_LINES = ["ID 000778", "Version TPJOJS.2.5", "J-2 Ref Pass 241 Cycle 181",
              "Last valid elevation: 05 Oct 2024"]


def unzip(pairs, offset=0.0):
    return [p[0] for p in pairs], [p[1] + offset for p in pairs]


def fx(px):
    return px / W


def fy(py):
    return 1 - py / H


fig = go.Figure()


# ---- top panel traces ----
def raw_circles(pairs, color, yaxis="y", offset=0.0):
    t, h = unzip(pairs, offset)
    return go.Scatter(
        x=t, y=h, mode="markers", xaxis="x", yaxis=yaxis, hoverinfo="skip",
        marker=dict(symbol="circle-open", size=22, color=color, line=dict(color=color, width=4)),
        error_y=dict(type="constant", value=0.15, thickness=3, width=0, color=color),
    )


fig.add_trace(raw_circles(TOPEX_RAW, C_TOPEX))
ft, fh = unzip(TOPEX_FILLED)
fig.add_trace(go.Scatter(x=ft, y=fh, mode="markers", xaxis="x", yaxis="y", hoverinfo="skip",
                         marker=dict(symbol="circle", size=24, color=C_TOPEX)))
fig.add_trace(raw_circles(J2_RAW, C_J2))
fig.add_trace(raw_circles(J3_RAW, C_J3))
s6_top = S6_EARLY_RAW + [(t, h) for t, h in zip(RECENT_T, RECENT_H) if t is not None]
# Sentinel-6 drawn against the right-hand (m MSL) axis
fig.add_trace(raw_circles(s6_top, C_S6, yaxis="y2", offset=MSL_OFFSET))

# ---- middle panel (right-hand MSL axis) ----
fig.add_trace(go.Scatter(
    x=RECENT_T, y=[None if h is None else h + MSL_OFFSET for h in RECENT_H],
    mode="lines+markers", xaxis="x2", yaxis="y4", hoverinfo="skip",
    connectgaps=False, line=dict(color=C_S6, width=4),
    marker=dict(symbol="circle", size=14, color=C_S6),
))
# left axis of middle panel: needs a trace to be drawn, same data invisible
fig.add_trace(go.Scatter(
    x=RECENT_T, y=RECENT_H, mode="lines", xaxis="x2", yaxis="y3", hoverinfo="skip",
    line=dict(color="rgba(0,0,0,0)", width=0), showlegend=False,
))


# ---- bottom panel ----
def asterisks(pairs, color, yaxis="y5", offset=0.0):
    t, h = unzip(pairs, offset)
    return go.Scatter(
        x=t, y=h, mode="markers", xaxis="x3", yaxis=yaxis, hoverinfo="skip",
        marker=dict(symbol="asterisk-open", size=30, color=color, line=dict(color=color, width=3.5)),
    )


fig.add_trace(asterisks(TOPEX_SMOOTH, C_TOPEX))
fig.add_trace(asterisks(J2_SMOOTH, C_J2))
fig.add_trace(asterisks(J3_SMOOTH, C_J3))
fig.add_trace(asterisks(S6_SMOOTH, C_S6, yaxis="y6", offset=MSL_OFFSET))


# ---- axes ----
def base_axis(**kw):
    d = dict(showline=True, linecolor="black", linewidth=4, ticks="inside",
             tickcolor="black", tickwidth=3, showgrid=False, zeroline=False,
             automargin=False,
             tickfont=dict(family=FONT, size=46, color="black"))
    d.update(kw)
    return d


def minor(dtick, tick0, length):
    return dict(ticks="inside", ticklen=length, tickwidth=3, tickcolor="black",
                tickmode="linear", dtick=dtick, tick0=tick0, showgrid=False)


def fmt(vals):
    return [f"{v:.1f}" for v in vals]


TOP_Y = [fy(611), fy(84)]
MID_Y = [fy(1259), fy(732)]
BOT_Y = [fy(1884), fy(1355)]
BOT_L = [-12.33, 2.26]

layout_axes = dict(
    xaxis=base_axis(domain=[fx(191), fx(2431)], anchor="y", range=[1992, 2025],
                    tickmode="array", tickvals=YEAR_TICKS, ticktext=[str(v) for v in YEAR_TICKS],
                    ticklen=16, mirror="ticks", minor=minor(1, 1992, 8), ticklabelstandoff=-11),
    yaxis=base_axis(domain=TOP_Y, anchor="x", range=[-12, 2], tickmode="array",
                    tickvals=LEFT_TICKS_TOP, ticktext=fmt(LEFT_TICKS_TOP), ticklen=20,
                    minor=minor(0.4, 0, 11), ticklabelstandoff=14),
    yaxis2=base_axis(overlaying="y", anchor="x", side="right",
                     range=[-12 + MSL_OFFSET, 2 + MSL_OFFSET], tickmode="array",
                     tickvals=RIGHT_TICKS_TOP, ticktext=fmt(RIGHT_TICKS_TOP), ticklen=20,
                     minor=minor(0.4, 20, 11), ticklabelstandoff=14),
    xaxis2=base_axis(domain=[fx(1310), fx(2429)], anchor="y3", range=[2022, 2025],
                     tickmode="array", tickvals=RECENT_YEAR_TICKS,
                     ticktext=[str(v) for v in RECENT_YEAR_TICKS],
                     ticklen=14, mirror="ticks", minor=minor(1 / 12, 2022, 6), ticklabelstandoff=-12),
    yaxis3=base_axis(domain=MID_Y, anchor="x2", range=[-12, 0], tickmode="array",
                     tickvals=LEFT_TICKS_MID, ticktext=fmt(LEFT_TICKS_MID), ticklen=11,
                     minor=minor(0.4, 0, 5), ticklabelstandoff=14),
    yaxis4=base_axis(overlaying="y3", anchor="x2", side="right",
                     range=[-12 + MSL_OFFSET, 0 + MSL_OFFSET], tickmode="array",
                     tickvals=RIGHT_TICKS_MID, ticktext=fmt(RIGHT_TICKS_MID), ticklen=11,
                     minor=minor(0.4, 20, 5), ticklabelstandoff=14),
    xaxis3=base_axis(domain=[fx(191), fx(2431)], anchor="y5", range=[1992, 2025],
                     tickmode="array", tickvals=YEAR_TICKS, ticktext=[str(v) for v in YEAR_TICKS],
                     ticklen=16, mirror="ticks", minor=minor(1, 1992, 8), ticklabelstandoff=-13),
    yaxis5=base_axis(domain=BOT_Y, anchor="x3", range=BOT_L, tickmode="array",
                     tickvals=LEFT_TICKS_TOP, ticktext=fmt(LEFT_TICKS_TOP), ticklen=20,
                     minor=minor(0.4, 0, 11), ticklabelstandoff=14),
    yaxis6=base_axis(overlaying="y5", anchor="x3", side="right",
                     range=[BOT_L[0] + MSL_OFFSET, BOT_L[1] + MSL_OFFSET], tickmode="array",
                     tickvals=RIGHT_TICKS_BOT, ticktext=fmt(RIGHT_TICKS_BOT), ticklen=20,
                     minor=minor(0.4, 20, 11), ticklabelstandoff=14),
)

# ---- annotations ----
ann = []


def text(s, x, y, size=48, color="black", xanchor="center", yanchor="middle", angle=0):
    ann.append(dict(text=s, x=fx(x), y=fy(y), xref="paper", yref="paper", showarrow=False,
                    xanchor=xanchor, yanchor=yanchor, textangle=angle, borderpad=0,
                    font=dict(family=FONT, size=size, color=color)))


text("Lake Mamia", 1311, 41, size=94)
text("Height Variation (m)", 30, 347, angle=-90)
text("Height Variation (m MSL)", 2574, 347, angle=-90)
text("Height Variation (m)", 1143, 995, angle=-90)
text("Height Variation (m MSL)", 2574, 995, angle=-90)
text("Smoothed Height Variation (m)", 30, 1620, angle=-90)
text("Height Variation (m MSL)", 2574, 1620, angle=-90)
text("Height variation in the most recent 3 years", 191, 909, xanchor="left")
text("(Sentinel-6A)", 191, 980, xanchor="left")

ROW_Y = [2036, 2108, 2181, 2253, 2325]
for (s, c), yy in zip(LEGEND_LINES, ROW_Y):
    text(s, 50, yy, color=c, xanchor="left")
for s, yy in zip(INFO_LINES, ROW_Y[1:]):
    text(s, 2428, yy, xanchor="right")

fig.update_layout(
    template="none",
    width=W, height=H, margin=dict(l=0, r=0, t=0, b=0, pad=0, autoexpand=False),
    paper_bgcolor="white", plot_bgcolor="white", showlegend=False,
    annotations=ann, **layout_axes,
)

fig.write_html("out.html", config={"displayModeBar": False},
               post_script="document.body.style.margin='0';")
